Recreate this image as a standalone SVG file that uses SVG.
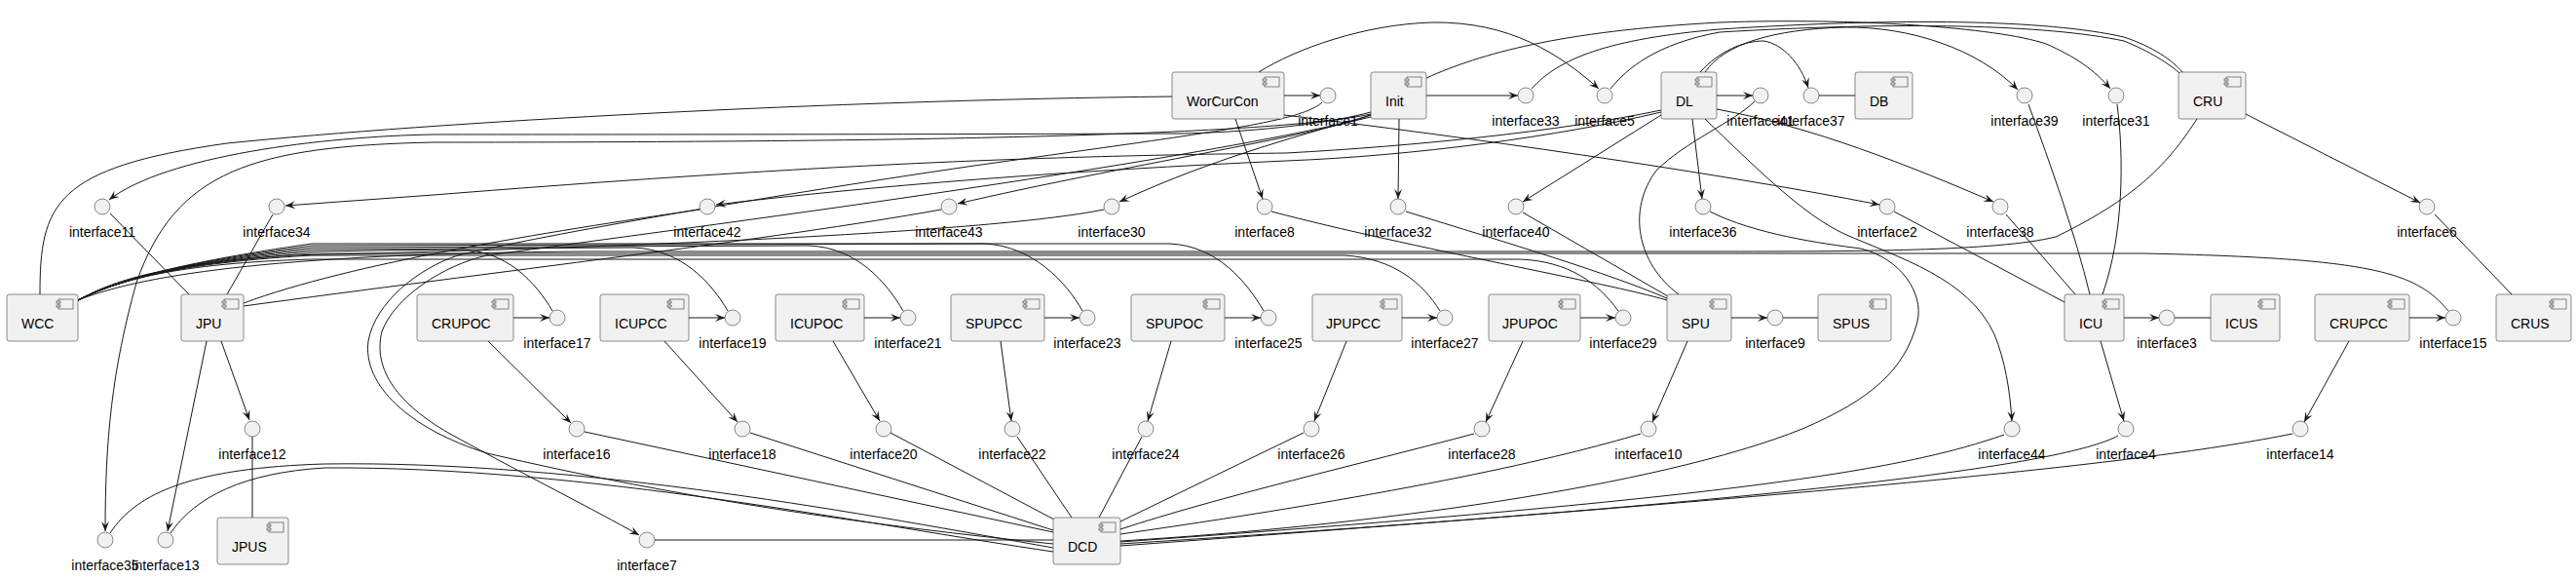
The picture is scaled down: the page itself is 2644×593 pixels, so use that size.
<svg xmlns="http://www.w3.org/2000/svg" width="2644" height="593" viewBox="0 0 2644 593">
<style>
.box{fill:#F1F1F1;stroke:#181818;stroke-width:0.5}
.ic{fill:#F1F1F1;stroke:#181818;stroke-width:0.5}
.lbl{font-family:"Liberation Sans",Arial,sans-serif;font-size:14px;fill:#000}
.il{font-family:"Liberation Sans",Arial,sans-serif;font-size:14px;fill:#000;text-anchor:middle}
.e{fill:none;stroke:#181818;stroke-width:1}
.a{fill:none;stroke:#181818;stroke-width:1;marker-end:url(#ah)}
</style>
<defs>
<marker id="ah" markerUnits="userSpaceOnUse" markerWidth="12" markerHeight="10" refX="10" refY="5" orient="auto" viewBox="0 0 12 10">
<path d="M10,5 L0,1 L4,5 L0,9 Z" fill="#181818"/>
</marker>
<g id="cic">
<rect x="-20" y="5" width="15" height="10" fill="#F1F1F1" stroke="#181818" stroke-width="0.5"/>
<rect x="-22" y="7" width="4" height="2" fill="#F1F1F1" stroke="#181818" stroke-width="0.5"/>
<rect x="-22" y="11" width="4" height="2" fill="#F1F1F1" stroke="#181818" stroke-width="0.5"/>
</g>
</defs>
<rect width="2644" height="593" fill="#FFFFFF"/>

<g id="connectors">
<path class="e" d="M41,302 C41,210 55,172 233,147 C450,125 850,103 1203,99"/>
<path class="a" d="M1318,98 L1355,98"/>
<path class="a" d="M1318,118 C1500,140 1750,175 1929,210"/>
<path class="a" d="M1292,74 C1330,50 1400,25 1470,23 C1550,22 1600,55 1641,91"/>
<path class="a" d="M1268,122 L1296,204"/>
<path class="e" d="M1357,105 C1335,125 1250,135 1000,170 C760,205 540,245 470,262 C430,275 385,310 378,350 C372,395 420,440 500,465 C700,512 900,540 1081,558"/>
<path class="a" d="M1407,120 C1200,170 720,232 500,262 C455,272 405,305 392,340 C382,380 410,415 460,444 C540,488 610,523 656,549"/>
<path class="a" d="M1407,115 C1370,125 1300,135 1213,137 C900,138 600,138 445,138 C330,140 170,160 112,205"/>
<path class="a" d="M1407,117 C1300,140 900,146 445,146 C260,150 180,175 140,290 C115,380 108,450 108,545"/>
<path class="a" d="M1407,118 C1350,135 1250,160 1149,207"/>
<path class="a" d="M1407,118 C1350,140 1150,170 983,209"/>
<path class="a" d="M1464,98 L1558,98"/>
<path class="a" d="M1436,122 L1435,204"/>
<path class="a" d="M1464,80 C1520,55 1600,32 1765,23 C1900,18 2050,28 2100,45 C2130,58 2150,72 2166,91"/>
<path class="a" d="M1705,113 C1600,135 1450,150 1320,157 C1100,160 885,165 445,200 L293,211"/>
<path class="a" d="M1705,115 C1600,140 1450,160 1320,165 C1100,175 900,190 735,210"/>
<path class="a" d="M1737,122 L1747,204"/>
<path class="a" d="M1705,118 L1563,207"/>
<path class="a" d="M1750,122 C1800,170 1850,220 1893,240 C1950,265 2020,285 2047,343 C2058,370 2063,400 2065,432"/>
<path class="a" d="M1762,112 C1860,130 1960,170 2046,207"/>
<path class="a" d="M1750,74 C1770,45 1820,30 1893,28 C1960,27 2030,50 2071,92"/>
<path class="a" d="M1745,74 C1765,52 1790,42 1810,42 C1830,45 1848,65 1856,90"/>
<path class="a" d="M1762,98 L1799,98"/>
<path class="e" d="M1801,104 C1780,125 1730,145 1700,175 C1670,215 1680,270 1723,302"/>
<path class="e" d="M1755,217 C1800,240 1870,250 1910,255 C1950,265 1975,300 1968,330 C1955,380 1920,410 1850,440 C1700,500 1400,540 1150,555"/>
<path class="e" d="M1572,91 C1600,60 1650,40 1765,30 C1950,18 2100,20 2180,38 C2210,48 2230,62 2240,74"/>
<path class="e" d="M1653,91 C1670,70 1700,45 1765,33 C1950,22 2100,25 2180,42 C2205,52 2228,66 2238,76"/>
<path class="e" d="M1867,98 L1904,98"/>
<path class="e" d="M1305,217 C1450,255 1650,290 1711,308"/>
<path class="e" d="M1443,217 C1550,250 1650,280 1711,306"/>
<path class="e" d="M1563,218 L1712,304"/>
<path class="e" d="M1944,217 L2119,310"/>
<path class="e" d="M2059,220 L2130,302"/>
<path class="e" d="M2082,107 C2105,170 2130,240 2145,302"/>
<path class="e" d="M2173,107 C2180,160 2180,240 2158,302"/>
<path class="a" d="M2305,117 L2484,208"/>
<path class="e" d="M2499,220 L2578,302"/>
<path class="e" d="M2255,122 C2230,160 2200,200 2110,243 C2050,258 1900,258 1760,258 L600,258 C300,260 150,280 80,308"/>
<path class="e" d="M113,219 L194,302"/>
<path class="e" d="M280,220 L233,302"/>
<path class="e" d="M718,215 C560,238 360,270 250,311"/>
<path class="e" d="M966,215 C800,245 500,280 250,314"/>
<path class="e" d="M1133,215 C1010,240 600,255 300,262 C180,270 120,285 80,308"/>
<path class="a" d="M227,350 L256,431"/>
<path class="a" d="M212,350 L172,545"/>
<path class="e" d="M259,448 L259,531"/>
<path class="e" d="M80,308 C120,288 180,270 320,258 L470,256 C520,256 550,290 567,319"/>
<path class="e" d="M80,308 C120,288 180,270 320,256 L650,254 C700,256 730,290 747,319"/>
<path class="e" d="M80,308 C120,288 180,270 320,254 L830,252 C880,254 910,290 927,319"/>
<path class="e" d="M80,308 C120,288 180,270 320,252 L1010,250 C1060,252 1095,290 1111,319"/>
<path class="e" d="M80,308 C120,288 180,270 320,250 L1200,250 C1250,252 1280,290 1297,319"/>
<path class="e" d="M80,308 C120,288 180,270 320,262 L1380,262 C1430,265 1460,290 1478,319"/>
<path class="e" d="M80,308 C120,288 180,270 320,266 L1560,266 C1610,268 1640,290 1661,319"/>
<path class="e" d="M80,308 C120,288 180,270 320,260 L2200,260 C2440,265 2480,280 2513,319"/>
<path class="a" d="M527,326 L564,326"/>
<path class="a" d="M501,350 L586,434"/>
<path class="a" d="M707,326 L744,326"/>
<path class="a" d="M682,350 L757,433"/>
<path class="a" d="M887,326 L924,326"/>
<path class="a" d="M855,350 L903,432"/>
<path class="a" d="M1072,326 L1108,326"/>
<path class="a" d="M1027,350 L1038,432"/>
<path class="a" d="M1257,326 L1294,326"/>
<path class="a" d="M1202,350 L1178,432"/>
<path class="a" d="M1439,326 L1475,326"/>
<path class="a" d="M1382,350 L1349,432"/>
<path class="a" d="M1622,326 L1658,326"/>
<path class="a" d="M1563,350 L1525,433"/>
<path class="a" d="M1777,326 L1814,326"/>
<path class="e" d="M1830,326 L1866,326"/>
<path class="a" d="M1732,350 L1696,433"/>
<path class="a" d="M2180,326 L2216,326"/>
<path class="e" d="M2232,326 L2269,326"/>
<path class="a" d="M2156,350 L2180,432"/>
<path class="a" d="M2473,326 L2510,326"/>
<path class="a" d="M2411,350 L2365,433"/>
<path class="e" d="M600,443 L1081,546"/>
<path class="e" d="M770,444 L1081,544"/>
<path class="e" d="M914,444 L1082,533"/>
<path class="e" d="M1044,448 L1100,531"/>
<path class="e" d="M1172,448 L1128,531"/>
<path class="e" d="M1338,444 L1150,535"/>
<path class="e" d="M1513,445 C1400,475 1250,510 1150,543"/>
<path class="e" d="M1684,445 C1600,470 1450,505 1150,548"/>
<path class="e" d="M2057,446 C1960,480 1800,510 1150,556"/>
<path class="e" d="M2174,447 C2127,473 1900,510 1150,558"/>
<path class="e" d="M2353,445 C2200,476 1900,505 1150,560"/>
<path class="e" d="M672,554 L1081,554"/>
<path class="e" d="M175,547 C200,510 250,485 333,480 C600,478 900,540 1081,566"/>
<path class="e" d="M113,547 C140,505 200,480 333,476 C600,472 900,530 1081,562"/>
</g>

<g id="WorCurCon"><rect class="box" x="1203" y="74" width="115" height="48" rx="2.5"/><use href="#cic" x="1318" y="74"/><text class="lbl" x="1218" y="109">WorCurCon</text></g>
<g id="Init"><rect class="box" x="1407" y="74" width="57" height="48" rx="2.5"/><use href="#cic" x="1464" y="74"/><text class="lbl" x="1422" y="109">Init</text></g>
<g id="DL"><rect class="box" x="1705" y="74" width="57" height="48" rx="2.5"/><use href="#cic" x="1762" y="74"/><text class="lbl" x="1720" y="109">DL</text></g>
<g id="DB"><rect class="box" x="1904" y="74" width="59" height="48" rx="2.5"/><use href="#cic" x="1963" y="74"/><text class="lbl" x="1919" y="109">DB</text></g>
<g id="CRU"><rect class="box" x="2236" y="74" width="69" height="48" rx="2.5"/><use href="#cic" x="2305" y="74"/><text class="lbl" x="2251" y="109">CRU</text></g>
<g id="WCC"><rect class="box" x="7" y="302" width="73" height="48" rx="2.5"/><use href="#cic" x="80" y="302"/><text class="lbl" x="22" y="337">WCC</text></g>
<g id="JPU"><rect class="box" x="186" y="302" width="64" height="48" rx="2.5"/><use href="#cic" x="250" y="302"/><text class="lbl" x="201" y="337">JPU</text></g>
<g id="CRUPOC"><rect class="box" x="428" y="302" width="99" height="48" rx="2.5"/><use href="#cic" x="527" y="302"/><text class="lbl" x="443" y="337">CRUPOC</text></g>
<g id="ICUPCC"><rect class="box" x="616" y="302" width="91" height="48" rx="2.5"/><use href="#cic" x="707" y="302"/><text class="lbl" x="631" y="337">ICUPCC</text></g>
<g id="ICUPOC"><rect class="box" x="796" y="302" width="91" height="48" rx="2.5"/><use href="#cic" x="887" y="302"/><text class="lbl" x="811" y="337">ICUPOC</text></g>
<g id="SPUPCC"><rect class="box" x="976" y="302" width="96" height="48" rx="2.5"/><use href="#cic" x="1072" y="302"/><text class="lbl" x="991" y="337">SPUPCC</text></g>
<g id="SPUPOC"><rect class="box" x="1161" y="302" width="96" height="48" rx="2.5"/><use href="#cic" x="1257" y="302"/><text class="lbl" x="1176" y="337">SPUPOC</text></g>
<g id="JPUPCC"><rect class="box" x="1347" y="302" width="92" height="48" rx="2.5"/><use href="#cic" x="1439" y="302"/><text class="lbl" x="1361" y="337">JPUPCC</text></g>
<g id="JPUPOC"><rect class="box" x="1528" y="302" width="94" height="48" rx="2.5"/><use href="#cic" x="1622" y="302"/><text class="lbl" x="1542" y="337">JPUPOC</text></g>
<g id="SPU"><rect class="box" x="1711" y="302" width="66" height="48" rx="2.5"/><use href="#cic" x="1777" y="302"/><text class="lbl" x="1726" y="337">SPU</text></g>
<g id="SPUS"><rect class="box" x="1866" y="302" width="75" height="48" rx="2.5"/><use href="#cic" x="1941" y="302"/><text class="lbl" x="1881" y="337">SPUS</text></g>
<g id="ICU"><rect class="box" x="2119" y="302" width="61" height="48" rx="2.5"/><use href="#cic" x="2180" y="302"/><text class="lbl" x="2134" y="337">ICU</text></g>
<g id="ICUS"><rect class="box" x="2269" y="302" width="71" height="48" rx="2.5"/><use href="#cic" x="2340" y="302"/><text class="lbl" x="2284" y="337">ICUS</text></g>
<g id="CRUPCC"><rect class="box" x="2376" y="302" width="97" height="48" rx="2.5"/><use href="#cic" x="2473" y="302"/><text class="lbl" x="2391" y="337">CRUPCC</text></g>
<g id="CRUS"><rect class="box" x="2562" y="302" width="77" height="48" rx="2.5"/><use href="#cic" x="2639" y="302"/><text class="lbl" x="2577" y="337">CRUS</text></g>
<g id="JPUS"><rect class="box" x="223" y="531" width="73" height="48" rx="2.5"/><use href="#cic" x="296" y="531"/><text class="lbl" x="238" y="566">JPUS</text></g>
<g id="DCD"><rect class="box" x="1081" y="531" width="69" height="48" rx="2.5"/><use href="#cic" x="1150" y="531"/><text class="lbl" x="1096" y="566">DCD</text></g>

<g id="interface1"><circle class="ic" cx="1363" cy="98" r="8"/><text class="il" x="1363" y="129">interface1</text></g>
<g id="interface33"><circle class="ic" cx="1566" cy="98" r="8"/><text class="il" x="1566" y="129">interface33</text></g>
<g id="interface5"><circle class="ic" cx="1647" cy="98" r="8"/><text class="il" x="1647" y="129">interface5</text></g>
<g id="interface41"><circle class="ic" cx="1807" cy="98" r="8"/><text class="il" x="1807" y="129">interface41</text></g>
<g id="interface37"><circle class="ic" cx="1859" cy="98" r="8"/><text class="il" x="1859" y="129">interface37</text></g>
<g id="interface39"><circle class="ic" cx="2078" cy="98" r="8"/><text class="il" x="2078" y="129">interface39</text></g>
<g id="interface31"><circle class="ic" cx="2172" cy="98" r="8"/><text class="il" x="2172" y="129">interface31</text></g>
<g id="interface11"><circle class="ic" cx="105" cy="212" r="8"/><text class="il" x="105" y="243">interface11</text></g>
<g id="interface34"><circle class="ic" cx="284" cy="212" r="8"/><text class="il" x="284" y="243">interface34</text></g>
<g id="interface42"><circle class="ic" cx="726" cy="212" r="8"/><text class="il" x="726" y="243">interface42</text></g>
<g id="interface43"><circle class="ic" cx="974" cy="212" r="8"/><text class="il" x="974" y="243">interface43</text></g>
<g id="interface30"><circle class="ic" cx="1141" cy="212" r="8"/><text class="il" x="1141" y="243">interface30</text></g>
<g id="interface8"><circle class="ic" cx="1298" cy="212" r="8"/><text class="il" x="1298" y="243">interface8</text></g>
<g id="interface32"><circle class="ic" cx="1435" cy="212" r="8"/><text class="il" x="1435" y="243">interface32</text></g>
<g id="interface40"><circle class="ic" cx="1556" cy="212" r="8"/><text class="il" x="1556" y="243">interface40</text></g>
<g id="interface36"><circle class="ic" cx="1748" cy="212" r="8"/><text class="il" x="1748" y="243">interface36</text></g>
<g id="interface2"><circle class="ic" cx="1937" cy="212" r="8"/><text class="il" x="1937" y="243">interface2</text></g>
<g id="interface38"><circle class="ic" cx="2053" cy="212" r="8"/><text class="il" x="2053" y="243">interface38</text></g>
<g id="interface6"><circle class="ic" cx="2491" cy="212" r="8"/><text class="il" x="2491" y="243">interface6</text></g>
<g id="interface17"><circle class="ic" cx="572" cy="326" r="8"/><text class="il" x="572" y="357">interface17</text></g>
<g id="interface19"><circle class="ic" cx="752" cy="326" r="8"/><text class="il" x="752" y="357">interface19</text></g>
<g id="interface21"><circle class="ic" cx="932" cy="326" r="8"/><text class="il" x="932" y="357">interface21</text></g>
<g id="interface23"><circle class="ic" cx="1116" cy="326" r="8"/><text class="il" x="1116" y="357">interface23</text></g>
<g id="interface25"><circle class="ic" cx="1302" cy="326" r="8"/><text class="il" x="1302" y="357">interface25</text></g>
<g id="interface27"><circle class="ic" cx="1483" cy="326" r="8"/><text class="il" x="1483" y="357">interface27</text></g>
<g id="interface29"><circle class="ic" cx="1666" cy="326" r="8"/><text class="il" x="1666" y="357">interface29</text></g>
<g id="interface9"><circle class="ic" cx="1822" cy="326" r="8"/><text class="il" x="1822" y="357">interface9</text></g>
<g id="interface3"><circle class="ic" cx="2224" cy="326" r="8"/><text class="il" x="2224" y="357">interface3</text></g>
<g id="interface15"><circle class="ic" cx="2518" cy="326" r="8"/><text class="il" x="2518" y="357">interface15</text></g>
<g id="interface12"><circle class="ic" cx="259" cy="440" r="8"/><text class="il" x="259" y="471">interface12</text></g>
<g id="interface16"><circle class="ic" cx="592" cy="440" r="8"/><text class="il" x="592" y="471">interface16</text></g>
<g id="interface18"><circle class="ic" cx="762" cy="440" r="8"/><text class="il" x="762" y="471">interface18</text></g>
<g id="interface20"><circle class="ic" cx="907" cy="440" r="8"/><text class="il" x="907" y="471">interface20</text></g>
<g id="interface22"><circle class="ic" cx="1039" cy="440" r="8"/><text class="il" x="1039" y="471">interface22</text></g>
<g id="interface24"><circle class="ic" cx="1176" cy="440" r="8"/><text class="il" x="1176" y="471">interface24</text></g>
<g id="interface26"><circle class="ic" cx="1346" cy="440" r="8"/><text class="il" x="1346" y="471">interface26</text></g>
<g id="interface28"><circle class="ic" cx="1521" cy="440" r="8"/><text class="il" x="1521" y="471">interface28</text></g>
<g id="interface10"><circle class="ic" cx="1692" cy="440" r="8"/><text class="il" x="1692" y="471">interface10</text></g>
<g id="interface44"><circle class="ic" cx="2065" cy="440" r="8"/><text class="il" x="2065" y="471">interface44</text></g>
<g id="interface4"><circle class="ic" cx="2182" cy="440" r="8"/><text class="il" x="2182" y="471">interface4</text></g>
<g id="interface14"><circle class="ic" cx="2361" cy="440" r="8"/><text class="il" x="2361" y="471">interface14</text></g>
<g id="interface35"><circle class="ic" cx="108" cy="554" r="8"/><text class="il" x="108" y="585">interface35</text></g>
<g id="interface13"><circle class="ic" cx="170" cy="554" r="8"/><text class="il" x="170" y="585">interface13</text></g>
<g id="interface7"><circle class="ic" cx="664" cy="554" r="8"/><text class="il" x="664" y="585">interface7</text></g>
</svg>
